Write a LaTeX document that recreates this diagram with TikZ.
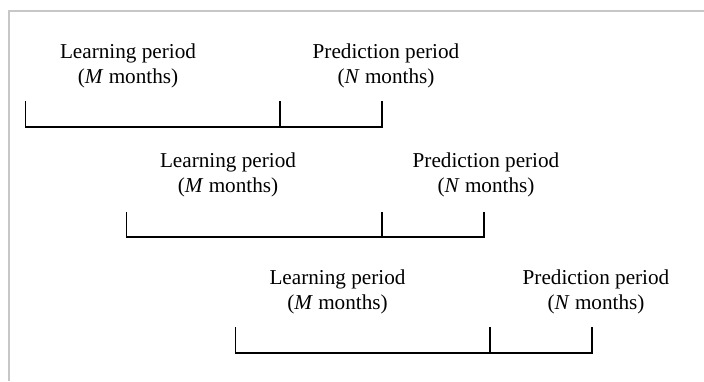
\documentclass[tikz,border=0pt]{standalone}
\usepackage{fontspec}
\setmainfont{Liberation Serif}
\begin{document}
\begin{tikzpicture}[x=1pt,y=-1pt,
  lbl/.style={align=center,inner sep=0pt,font=\fontsize{21.2}{25}\selectfont},
  brk/.style={line width=1.4pt,black,line cap=rect},
  frame/.style={line width=2pt,draw=black!22}]
\useasboundingbox (0,0) rectangle (704,381);
\draw[frame] (9,381) -- (9,10.5) -- (704,10.5);
% group 1
\node[lbl] (L1) at (128,65.5) {Learning period\\(\textit{M} months)};
\node[lbl] (P1) at (386,65.5) {Prediction period\\(\textit{N} months)};
\coordinate (a1) at (25.7,127); \coordinate (b1) at (280,127); \coordinate (c1) at (382,127);
\draw[brk] ([yshift=25pt]a1) -- (a1) -- (c1) -- ([yshift=25pt]c1);
\draw[brk] (b1) -- ([yshift=25pt]b1);
% group 2
\node[lbl] (L2) at (228,174.5) {Learning period\\(\textit{M} months)};
\node[lbl] (P2) at (486,174.5) {Prediction period\\(\textit{N} months)};
\coordinate (a2) at (126.7,237); \coordinate (b2) at (382,237); \coordinate (c2) at (484,237);
\draw[brk] ([yshift=24pt]a2) -- (a2) -- (c2) -- ([yshift=24pt]c2);
\draw[brk] (b2) -- ([yshift=24pt]b2);
% group 3
\node[lbl] (L3) at (337.5,291.5) {Learning period\\(\textit{M} months)};
\node[lbl] (P3) at (596,291.5) {Prediction period\\(\textit{N} months)};
\coordinate (a3) at (235.7,353); \coordinate (b3) at (490,353); \coordinate (c3) at (592,353);
\draw[brk] ([yshift=25pt]a3) -- (a3) -- (c3) -- ([yshift=25pt]c3);
\draw[brk] (b3) -- ([yshift=25pt]b3);
\end{tikzpicture}
\end{document}
